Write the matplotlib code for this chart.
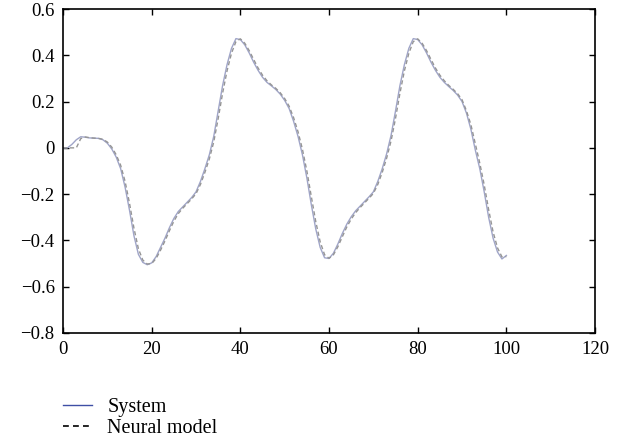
import matplotlib
matplotlib.use("Agg")
import matplotlib.pyplot as plt
from matplotlib.lines import Line2D

plt.rcParams['font.family'] = ['Liberation Serif', 'DejaVu Serif']

# time steps
t = list(range(0, 101))

# system output
system = [0.0, 0.0, 0.015, 0.035, 0.048, 0.046, 0.043, 0.042, 0.041, 0.035,
          0.02, -0.005, -0.04, -0.09, -0.17, -0.27, -0.38, -0.46, -0.495, -0.505,
          -0.497, -0.47, -0.43, -0.39, -0.345, -0.305, -0.275, -0.255, -0.235, -0.215,
          -0.19, -0.145, -0.09, -0.03, 0.05, 0.16, 0.27, 0.36, 0.43, 0.472,
          0.468, 0.445, 0.41, 0.37, 0.335, 0.305, 0.283, 0.268, 0.252, 0.232,
          0.205, 0.17, 0.115, 0.05, -0.03, -0.13, -0.245, -0.35, -0.43, -0.475,
          -0.478, -0.455, -0.415, -0.37, -0.33, -0.298, -0.272, -0.252, -0.232, -0.212,
          -0.19, -0.145, -0.09, -0.025, 0.055, 0.16, 0.27, 0.36, 0.43, 0.472,
          0.468, 0.445, 0.41, 0.37, 0.335, 0.305, 0.283, 0.265, 0.248, 0.228,
          0.2, 0.15, 0.08, -0.01, -0.09, -0.19, -0.3, -0.39, -0.45, -0.48,
          -0.465]

# neural model output
model = [0.0, 0.0, 0.0, 0.0, 0.04, 0.047, 0.044, 0.042, 0.041, 0.037,
         0.025, 0.003, -0.03, -0.075, -0.145, -0.24, -0.347, -0.436, -0.485, -0.502,
         -0.5, -0.478, -0.442, -0.402, -0.358, -0.317, -0.284, -0.261, -0.241, -0.221,
         -0.198, -0.158, -0.106, -0.048, 0.026, 0.127, 0.237, 0.333, 0.409, 0.459,
         0.471, 0.452, 0.42, 0.382, 0.345, 0.314, 0.29, 0.272, 0.257, 0.238,
         0.213, 0.18, 0.131, 0.07, -0.006, -0.1, -0.21, -0.318, -0.406, -0.462,
         -0.477, -0.462, -0.427, -0.384, -0.342, -0.308, -0.28, -0.258, -0.238, -0.218,
         -0.197, -0.158, -0.106, -0.044, 0.031, 0.128, 0.237, 0.333, 0.409, 0.459,
         0.471, 0.452, 0.42, 0.382, 0.345, 0.314, 0.29, 0.27, 0.253, 0.234,
         0.208, 0.16, 0.1, 0.017, -0.066, -0.16, -0.267, -0.363, -0.432, -0.471,
         -0.47]

xticks = [0, 20, 40, 60, 80, 100, 120]
yticks = [-0.8, -0.6, -0.4, -0.2, 0, 0.2, 0.4, 0.6]
ylabels = ['\u22120.8', '\u22120.6', '\u22120.4', '\u22120.2', '0', '0.2', '0.4', '0.6']

fig = plt.figure(figsize=(6.24, 4.48), dpi=100)
ax = fig.add_axes([0.101, 0.2567, 0.8526, 0.7232])

ax.plot(t, system, color='#a0a5c8', lw=1.0)
ax.plot(t, model, color='#959595', lw=1.0, ls=(0, (3, 2)))

ax.set_xlim(0, 120)
ax.set_ylim(-0.8, 0.6)
ax.set_xticks(xticks)
ax.set_yticks(yticks)
ax.set_yticklabels(ylabels)
ax.tick_params(direction='in', length=4, width=1, top=True, right=True,
               labelsize=13.5, pad=6)
for s in ax.spines.values():
    s.set_linewidth(1.2)

handles = [Line2D([], [], color='#3f4fa5', lw=1.0),
           Line2D([], [], color='black', lw=1.2, ls=(0, (3.5, 2.5)))]
fig.legend(handles, ['System', 'Neural model'], loc='upper left',
           bbox_to_anchor=(0.101, 0.112), frameon=False, fontsize=14.5,
           handlelength=1.45, handletextpad=0.75, labelspacing=0.12,
           borderpad=0, borderaxespad=0)

fig.savefig('out.png', dpi=100)
